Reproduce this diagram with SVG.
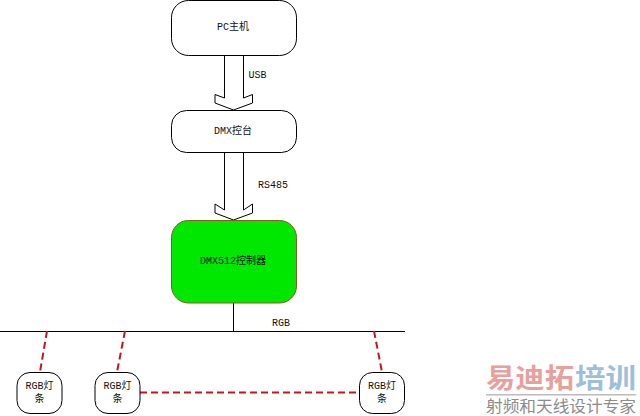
<svg xmlns="http://www.w3.org/2000/svg" width="640" height="416" viewBox="0 0 640 416">
<style>
.n{fill:#fff;stroke:#000;stroke-width:1}
.a{fill:#fff;stroke:#000;stroke-width:1}
.d{fill:none;stroke:#c4161c;stroke-width:2;stroke-dasharray:7 4}
.l{fill:none;stroke:#000;stroke-width:1}
text{font-family:"Liberation Mono","Noto Sans CJK SC",monospace;font-size:10px;fill:#111;text-anchor:middle}
.w1{font-family:"Noto Sans CJK SC",sans-serif;font-weight:700;font-size:27px;text-anchor:start}
.w2{font-family:"Noto Sans CJK SC",serif;font-size:15.500px;fill:#8c8c8c;text-anchor:start}
</style>
<rect width="640" height="416" fill="#fff"/>
<g id="connectors">
<path class="a" d="M224.500 55V98L215 94.500V103L233.500 110L252.500 103V94.500L243.500 98V55Z"/>
<path class="a" d="M224.500 152V210L215 204V213L233.500 220L252.500 213V204L243.500 210V152Z"/>
<path class="l" d="M233.500 303V331M0 331.500H405"/>
<path class="d" d="M47 331L40 372M125 331L117 372M374 331L382 372M140 392.500H359"/>
</g>
<g id="pc"><rect class="n" x="171.500" y="0.500" width="125" height="55" rx="17"/><text x="233" y="30">PC主机</text></g>
<g id="console"><rect class="n" x="171.500" y="110.500" width="125" height="42" rx="15"/><text x="233" y="134">DMX控台</text></g>
<g id="controller"><rect x="171.500" y="220.500" width="125" height="82.500" rx="17" fill="#00e800" stroke="#8a5a20" stroke-width="1"/><text x="233" y="264">DMX512控制器</text></g>
<g id="strip1"><rect class="n" x="17" y="372.500" width="45" height="41" rx="13"/><text x="39.500" y="389">RGB灯</text><text x="39.500" y="402">条</text></g>
<g id="strip2"><rect class="n" x="95" y="372.500" width="45" height="41" rx="13"/><text x="117.500" y="389">RGB灯</text><text x="117.500" y="402">条</text></g>
<g id="strip3"><rect class="n" x="359.500" y="372.500" width="45" height="41" rx="13"/><text x="382" y="389">RGB灯</text><text x="382" y="402">条</text></g>
<g id="labels">
<text x="257.500" y="78">USB</text>
<text x="273" y="188">RS485</text>
<text x="281" y="326">RGB</text>
</g>
<g id="watermark">
<text class="w1" x="486" y="388" textLength="88" lengthAdjust="spacingAndGlyphs" style="fill:#e8a09c">易迪拓</text>
<text class="w1" x="575" y="388" textLength="61" lengthAdjust="spacingAndGlyphs" style="fill:#9dbfdc">培训</text>
<rect x="486" y="394" width="150" height="1.500" fill="#bbb"/>
<text class="w2" x="486" y="412" textLength="150" lengthAdjust="spacingAndGlyphs">射频和天线设计专家</text>
</g>
</svg>
